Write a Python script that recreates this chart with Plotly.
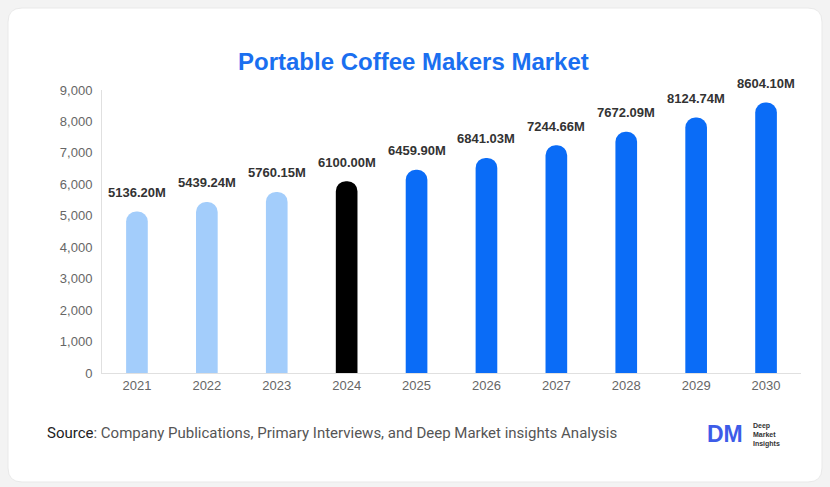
import plotly.graph_objects as go

years = ["2021", "2022", "2023", "2024", "2025", "2026", "2027", "2028", "2029", "2030"]
values = [5136.20, 5439.24, 5760.15, 6100.00, 6459.90, 6841.03, 7244.66, 7672.09, 8124.74, 8604.10]
colors = ["#a3cdfb"] * 3 + ["#000000"] + ["#0a6cf7"] * 6
labels = [f"{v:.2f}M" for v in values]
y_ticks = [0, 1000, 2000, 3000, 4000, 5000, 6000, 7000, 8000, 9000]

W, H = 830, 487
ML, MR, MT, MB = 102, 29, 90, 114
PW, PH = W - ML - MR, H - MT - MB

def px(x):
    return (x - ML) / PW

def py(y):
    return (H - MB - y) / PH

fig = go.Figure()
fig.add_trace(go.Bar(
    x=years, y=values, marker=dict(color=colors, line=dict(width=0)),
    width=0.31, cliponaxis=False, hoverinfo="skip",
))
# value labels: category axis positions are indices of the categories
for i, (v, lab) in enumerate(zip(values, labels)):
    fig.add_annotation(x=i, y=v, text=f"<b>{lab}</b>", showarrow=False,
                       xanchor="center", yanchor="middle", yshift=19,
                       font=dict(family="Liberation Sans", size=13, color="#333333"))

# card with rounded corners
x0, x1, y0, y1, r = 8, 822, 8, 482, 14
path = (f"M {px(x0+r)},{py(y0)} L {px(x1-r)},{py(y0)} Q {px(x1)},{py(y0)} {px(x1)},{py(y0+r)} "
        f"L {px(x1)},{py(y1-r)} Q {px(x1)},{py(y1)} {px(x1-r)},{py(y1)} "
        f"L {px(x0+r)},{py(y1)} Q {px(x0)},{py(y1)} {px(x0)},{py(y1-r)} "
        f"L {px(x0)},{py(y0+r)} Q {px(x0)},{py(y0)} {px(x0+r)},{py(y0)} Z")
fig.add_shape(type="path", path=path, xref="paper", yref="paper", layer="below",
              fillcolor="#ffffff", line=dict(color="#e9e9e9", width=1))

fig.add_annotation(text="<b>Portable Coffee Makers Market</b>", x=px(413), y=py(62),
                   xref="paper", yref="paper", showarrow=False, xanchor="center", yanchor="middle",
                   font=dict(family="Liberation Sans", size=24, color="#1a6ff0"))
fig.add_annotation(text="<span style='color:#222222'>Source</span>: Company Publications, Primary Interviews, and Deep Market insights Analysis",
                   x=px(45), y=py(433), xref="paper", yref="paper", showarrow=False,
                   xanchor="left", yanchor="middle",
                   font=dict(family="Roboto", size=15, color="#555555"))
fig.add_annotation(text="<b>DM</b>", x=px(705), y=py(434), xref="paper", yref="paper",
                   showarrow=False, xanchor="left", yanchor="middle",
                   font=dict(family="Liberation Sans", size=23, color="#3d5ce8"))
fig.add_annotation(text="<b>Deep<br>Market<br>Insights</b>", x=px(751), y=py(435), xref="paper", yref="paper",
                   showarrow=False, xanchor="left", yanchor="middle", align="left",
                   font=dict(family="Liberation Sans", size=7, color="#333333"))

fig.update_layout(
    width=W, height=H, margin=dict(l=ML, r=MR, t=MT, b=MB),
    paper_bgcolor="#f3f3f3", plot_bgcolor="rgba(0,0,0,0)",
    showlegend=False, barcornerradius=11,
    xaxis=dict(type="category", showgrid=False, showline=True, linecolor="#e0e0e0", linewidth=1,
               ticks="", tickfont=dict(family="Liberation Sans", size=13, color="#666666"),
               fixedrange=True),
    yaxis=dict(range=[0, 9000], tickvals=y_ticks, tickformat=",d", showgrid=False,
               showline=True, linecolor="#e0e0e0", linewidth=1, zeroline=False, ticks="",
               ticklabelstandoff=6,
               tickfont=dict(family="Liberation Sans", size=13, color="#666666")),
)

fig.write_html("out.html")
